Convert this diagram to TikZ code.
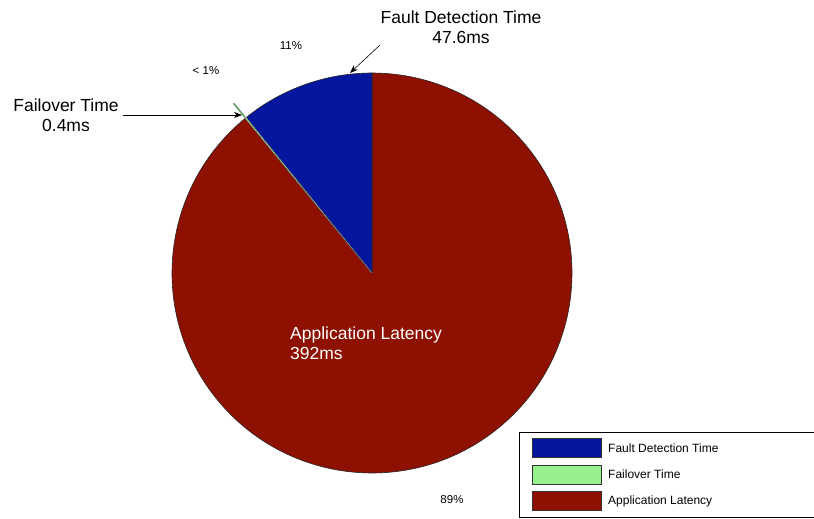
\documentclass[tikz,border=0pt]{standalone}
\usepackage{fontspec}
\setmainfont{Liberation Sans}
\usetikzlibrary{arrows.meta}
\definecolor{fdblue}{RGB}{4,22,158}
\definecolor{fogreen}{RGB}{150,240,140}
\definecolor{alred}{RGB}{142,16,0}
\tikzset{
  big/.style={font=\fontsize{17.5}{20}\selectfont, align=center, inner sep=0pt},
  small/.style={font=\fontsize{11.5}{13}\selectfont, inner sep=0pt},
  leg/.style={font=\fontsize{12}{14}\selectfont, inner sep=0pt, anchor=west},
  swatch/.style={draw=black!80, line width=0.5pt, minimum width=69pt, minimum height=19pt, inner sep=0pt},
  slice/.style={draw=black!85, line width=0.6pt},
  pointer/.style={-{Stealth[length=8pt,width=6pt]}, line width=0.6pt}
}
\begin{document}
\begin{tikzpicture}[x=1pt,y=-1pt]
\useasboundingbox (0,0) rectangle (814,519);
\fill[white] (0,0) rectangle (814,519);
\coordinate (c) at (372,273);
% red slice (Application Latency)
\filldraw[slice, fill=alred] (c) -- ++(-129.33:200) arc[start angle=-129.33, end angle=-450, radius=200] -- cycle;
% blue slice (Fault Detection)
\filldraw[slice, fill=fdblue] (c) -- ++(-90:200) arc[start angle=-90, end angle=-129, radius=200] -- cycle;
% green sliver (Failover)
\filldraw[draw=gray, line width=0.6pt, fill=fogreen, dashed] (c) -- ++(-129:200) arc[start angle=-129, end angle=-129.33, radius=200] -- cycle;
\draw[gray!75!green, line width=1.6pt] (c) ++(-129.2:201) coordinate (s1) -- ++(-129.2:18) coordinate (s2);
\coordinate (ftip) at (242,115);
\coordinate (dtip) at (350,73);
% labels
\node[big] (fd) at (461,27) {Fault Detection Time\\47.6ms};
\node[big] (fo) at (66,115) {Failover Time\\0.4ms};
\node[big, white, align=left, anchor=north west] (al) at (290,327) {Application Latency\\392ms};
\node[small] (p11) at (291,46) {11\%};
\node[small] (p1) at (206,71) {< 1\%};
\node[small] (p89) at (452,500) {89\%};
\coordinate (foa) at (123,115);
\coordinate (fda) at (380,45);
\draw[pointer] (foa) -- (ftip);
\draw[pointer] (fda) -- (dtip);
% legend
\draw[black, line width=0.8pt] (519,432) rectangle (816,517);
\node[swatch, fill=fdblue, anchor=north west] (l1) at (532,438) {};
\node[swatch, fill=fogreen, anchor=north west] (l2) at (532,465) {};
\node[swatch, fill=alred, anchor=north west] (l3) at (532,491) {};
\node[leg] (t1) at (608,448) {Fault Detection Time};
\node[leg] (t2) at (608,474) {Failover Time};
\node[leg] (t3) at (608,501) {Application Latency};
\end{tikzpicture}
\end{document}
